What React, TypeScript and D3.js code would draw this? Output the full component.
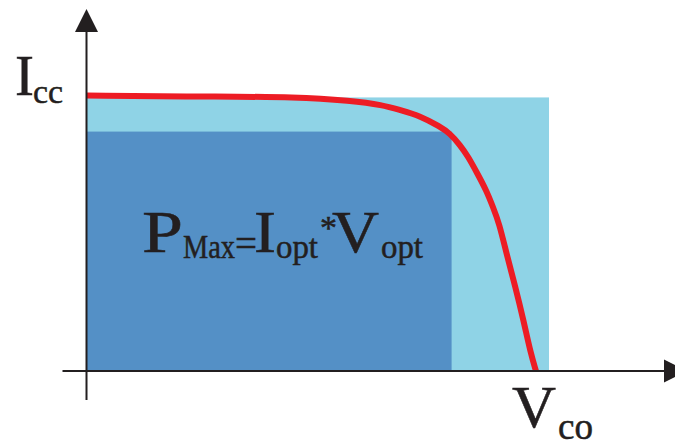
import React from "react";
import * as d3 from "d3";

// I-V curve of a solar cell (normalised units: V in % of Vco, I in % of Icc)
const voltage = [0, 25.2, 47.4, 58.6, 65.9, 69.7, 74.2, 78.6, 80.8, 83.1, 84.9, 86.9, 88.9, 90.4, 91.8, 93.4, 95.4, 97.2, 98.8, 100];
const current = [100, 99.6, 99.5, 98.1, 96.55, 94.7, 92.6, 88.7, 86.3, 82.0, 77.8, 71.8, 65.7, 59.6, 53.6, 42.8, 30.5, 18.5, 6.5, 0];

// rectangle extents
const outerRect = { v: 102.9, i: 99.3 }; // Icc * Vco bounding area
const optRect = { v: 81.2, i: 86.9 }; // Iopt * Vopt

const W = 675;
const H = 441;
const INK = "#231f20";
const FONT = "'Liberation Serif', 'Times New Roman', serif";

export default function App() {
  const x = d3.scaleLinear().domain([0, 100]).range([87, 536]);
  const y = d3.scaleLinear().domain([0, 100]).range([371, 95.5]);

  const pts: [number, number][] = voltage.map((v, k) => [v, current[k]]);
  const line = d3
    .line<[number, number]>()
    .x((d) => x(d[0]))
    .y((d) => y(d[1]))
    .curve(d3.curveBasis);

  const x0 = x(0);
  const y0 = y(0);
  const txt = { fontFamily: FONT, fill: INK, stroke: INK, strokeWidth: 0.5 };

  return (
    <svg
      width={W}
      height={H}
      style={{ position: "fixed", left: 0, top: 0, background: "#fff" }}
    >
      <rect x={x0} y={y(outerRect.i)} width={x(outerRect.v) - x0} height={y0 - y(outerRect.i)} fill="#8fd3e6" />
      <rect x={x0} y={y(optRect.i)} width={x(optRect.v) - x0} height={y0 - y(optRect.i)} fill="#5490c6" />

      <path d={line(pts) || ""} fill="none" stroke="#ed1c24" strokeWidth={6} />

      {/* axes */}
      <line x1={62.5} x2={666} y1={y0} y2={y0} stroke={INK} strokeWidth={2} />
      <line x1={x0 - 0.5} x2={x0 - 0.5} y1={30} y2={400} stroke={INK} strokeWidth={2} />
      <polygon points={`${x0 - 0.5},9 ${x0 - 12},32 ${x0 + 11},32`} fill={INK} />
      <polygon points={`687,${y0} 664,${y0 - 11.5} 664,${y0 + 11.5}`} fill={INK} />

      {/* labels */}
      <text {...txt}>
        <tspan x={15} y={95} fontSize={57}>I</tspan>
        <tspan x={33} y={103} fontSize={34} textLength={30} lengthAdjust="spacingAndGlyphs">cc</tspan>
      </text>
      <text {...txt}>
        <tspan x={512} y={427} fontSize={59} textLength={44} lengthAdjust="spacingAndGlyphs">V</tspan>
        <tspan x={558} y={439} fontSize={37} textLength={35} lengthAdjust="spacingAndGlyphs">co</tspan>
      </text>
      <text {...txt}>
        <tspan x={142} y={252} fontSize={59} textLength={41} lengthAdjust="spacingAndGlyphs">P</tspan>
        <tspan x={183} y={257.5} fontSize={33} textLength={52} lengthAdjust="spacingAndGlyphs">Max</tspan>
        <tspan x={235} y={257} fontSize={40} textLength={22} lengthAdjust="spacingAndGlyphs">=</tspan>
        <tspan x={254} y={252} fontSize={59} textLength={22} lengthAdjust="spacingAndGlyphs">I</tspan>
        <tspan x={276} y={258} fontSize={34} textLength={42} lengthAdjust="spacingAndGlyphs">opt</tspan>
        <tspan x={320} y={239} fontSize={34}>*</tspan>
        <tspan x={332} y={252} fontSize={59} textLength={47} lengthAdjust="spacingAndGlyphs">V</tspan>
        <tspan x={381} y={258} fontSize={34} textLength={42} lengthAdjust="spacingAndGlyphs">opt</tspan>
      </text>
    </svg>
  );
}
